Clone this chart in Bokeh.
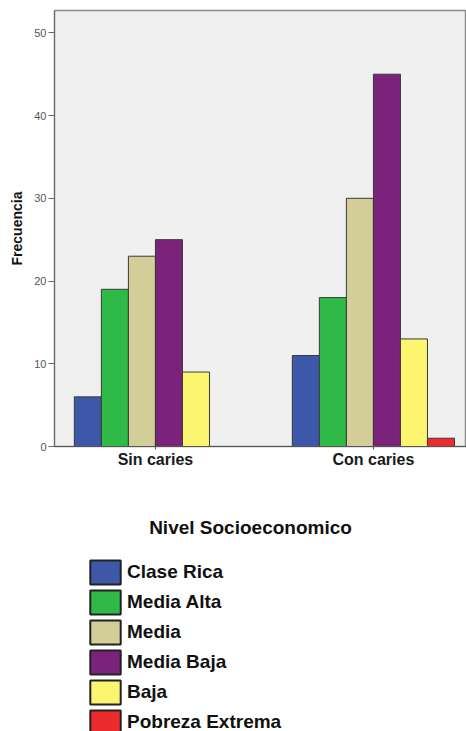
from bokeh.plotting import figure
from bokeh.layouts import column
from bokeh.models import Range1d, FixedTicker, Legend, LegendItem, Label, ColumnDataSource
from bokeh.transform import dodge
from bokeh.embed import file_html
from bokeh.resources import INLINE

groups = ["Sin caries", "Con caries"]
levels = ["Clase Rica", "Media Alta", "Media", "Media Baja", "Baja", "Pobreza Extrema"]
clase_rica = [6, 11]
media_alta = [19, 18]
media = [23, 30]
media_baja = [25, 45]
baja = [9, 13]
pobreza_extrema = [0, 1]
y_ticks = [0, 10, 20, 30, 40, 50]

colors = ["#3d58a9", "#2fba48", "#d3cd98", "#7b237b", "#fbf56f", "#ec2c2c"]
series = [clase_rica, media_alta, media, media_baja, baja, pobreza_extrema]

data = {"gx": list(range(len(groups)))}
for i, s in enumerate(series):
    data["s%d" % i] = s
src = ColumnDataSource(data)

FONT = "Liberation Sans"

p = figure(width=466, height=480, output_backend="svg", toolbar_location=None,
           x_range=Range1d(-0.463, 1.427), y_range=Range1d(0, 52.7),
           min_border_left=54, min_border_right=0, min_border_top=10,
           min_border_bottom=34)

p.background_fill_color = "#f0f0f0"
p.border_fill_color = "white"
p.outline_line_color = "#8a8a8a"
p.outline_line_width = 1.5
p.grid.visible = False

w = 0.124
for i, (lvl, col) in enumerate(zip(levels, colors)):
    p.vbar(x=dodge("gx", (i - 2.5) * w, range=p.x_range), top="s%d" % i, width=w,
           bottom=0, source=src, fill_color=col, line_color="#3a3a3a", line_width=1)

# x axis
p.xaxis.ticker = FixedTicker(ticks=data["gx"])
p.xaxis.major_label_overrides = {i: g for i, g in enumerate(groups)}
p.xaxis.minor_tick_line_color = None
p.xaxis.major_tick_in = 0
p.xaxis.major_tick_out = 3
p.xaxis.axis_line_color = "#555555"
p.xaxis.major_tick_line_color = "#555555"
p.xaxis.major_label_text_font = FONT
p.xaxis.major_label_text_font_style = "bold"
p.xaxis.major_label_text_font_size = "16px"
p.xaxis.major_label_text_color = "#1a1a1a"
p.xaxis.major_label_standoff = 1

# y axis
p.yaxis.ticker = FixedTicker(ticks=y_ticks)
p.yaxis.minor_tick_line_color = None
p.yaxis.major_tick_in = 0
p.yaxis.major_tick_out = 6
p.yaxis.axis_line_color = "#666666"
p.yaxis.major_tick_line_color = "#666666"
p.yaxis.major_label_text_font = FONT
p.yaxis.major_label_text_font_size = "11px"
p.yaxis.major_label_text_color = "#555555"
p.yaxis.major_label_standoff = 2
p.yaxis.axis_label = "Frecuencia"
p.yaxis.axis_label_text_font = FONT
p.yaxis.axis_label_text_font_style = "bold"
p.yaxis.axis_label_text_font_size = "14px"
p.yaxis.axis_label_text_color = "#111111"
p.yaxis.axis_label_standoff = 6

# legend panel (second figure below)
p2 = figure(width=466, height=251, output_backend="svg", toolbar_location=None,
            x_range=Range1d(-0.463, 1.427), y_range=Range1d(0, 52.7),
            min_border=0, min_border_left=54, min_border_right=0,
            min_border_top=0, min_border_bottom=0)
p2.axis.visible = False
p2.grid.visible = False
p2.outline_line_color = None
p2.background_fill_color = "white"
p2.border_fill_color = "white"

items = []
for i, (lvl, col) in enumerate(zip(levels, colors)):
    r = p2.vbar(x="gx", top="s%d" % i, width=w, source=src, fill_color=col,
                line_color="#222222", line_width=2, visible=False)
    items.append(LegendItem(label=lvl, renderers=[r]))

legend = Legend(items=items, location=(32, -6), orientation="vertical",
                glyph_width=38, glyph_height=30, spacing=0, padding=0, margin=0,
                label_standoff=3, label_text_font=FONT, label_text_font_style="bold",
                label_text_font_size="19px", label_text_color="#111111",
                border_line_alpha=0, background_fill_alpha=0)
p2.add_layout(legend, "center")

title = Label(x=196, y=204, x_units="screen", y_units="screen", text="Nivel Socioeconomico",
              text_align="center", text_baseline="middle", text_font=FONT,
              text_font_style="bold", text_font_size="19px", text_color="#111111")
p2.add_layout(title)

layout = column(p, p2, spacing=0)
open("out.html", "w").write(file_html(layout, INLINE))
